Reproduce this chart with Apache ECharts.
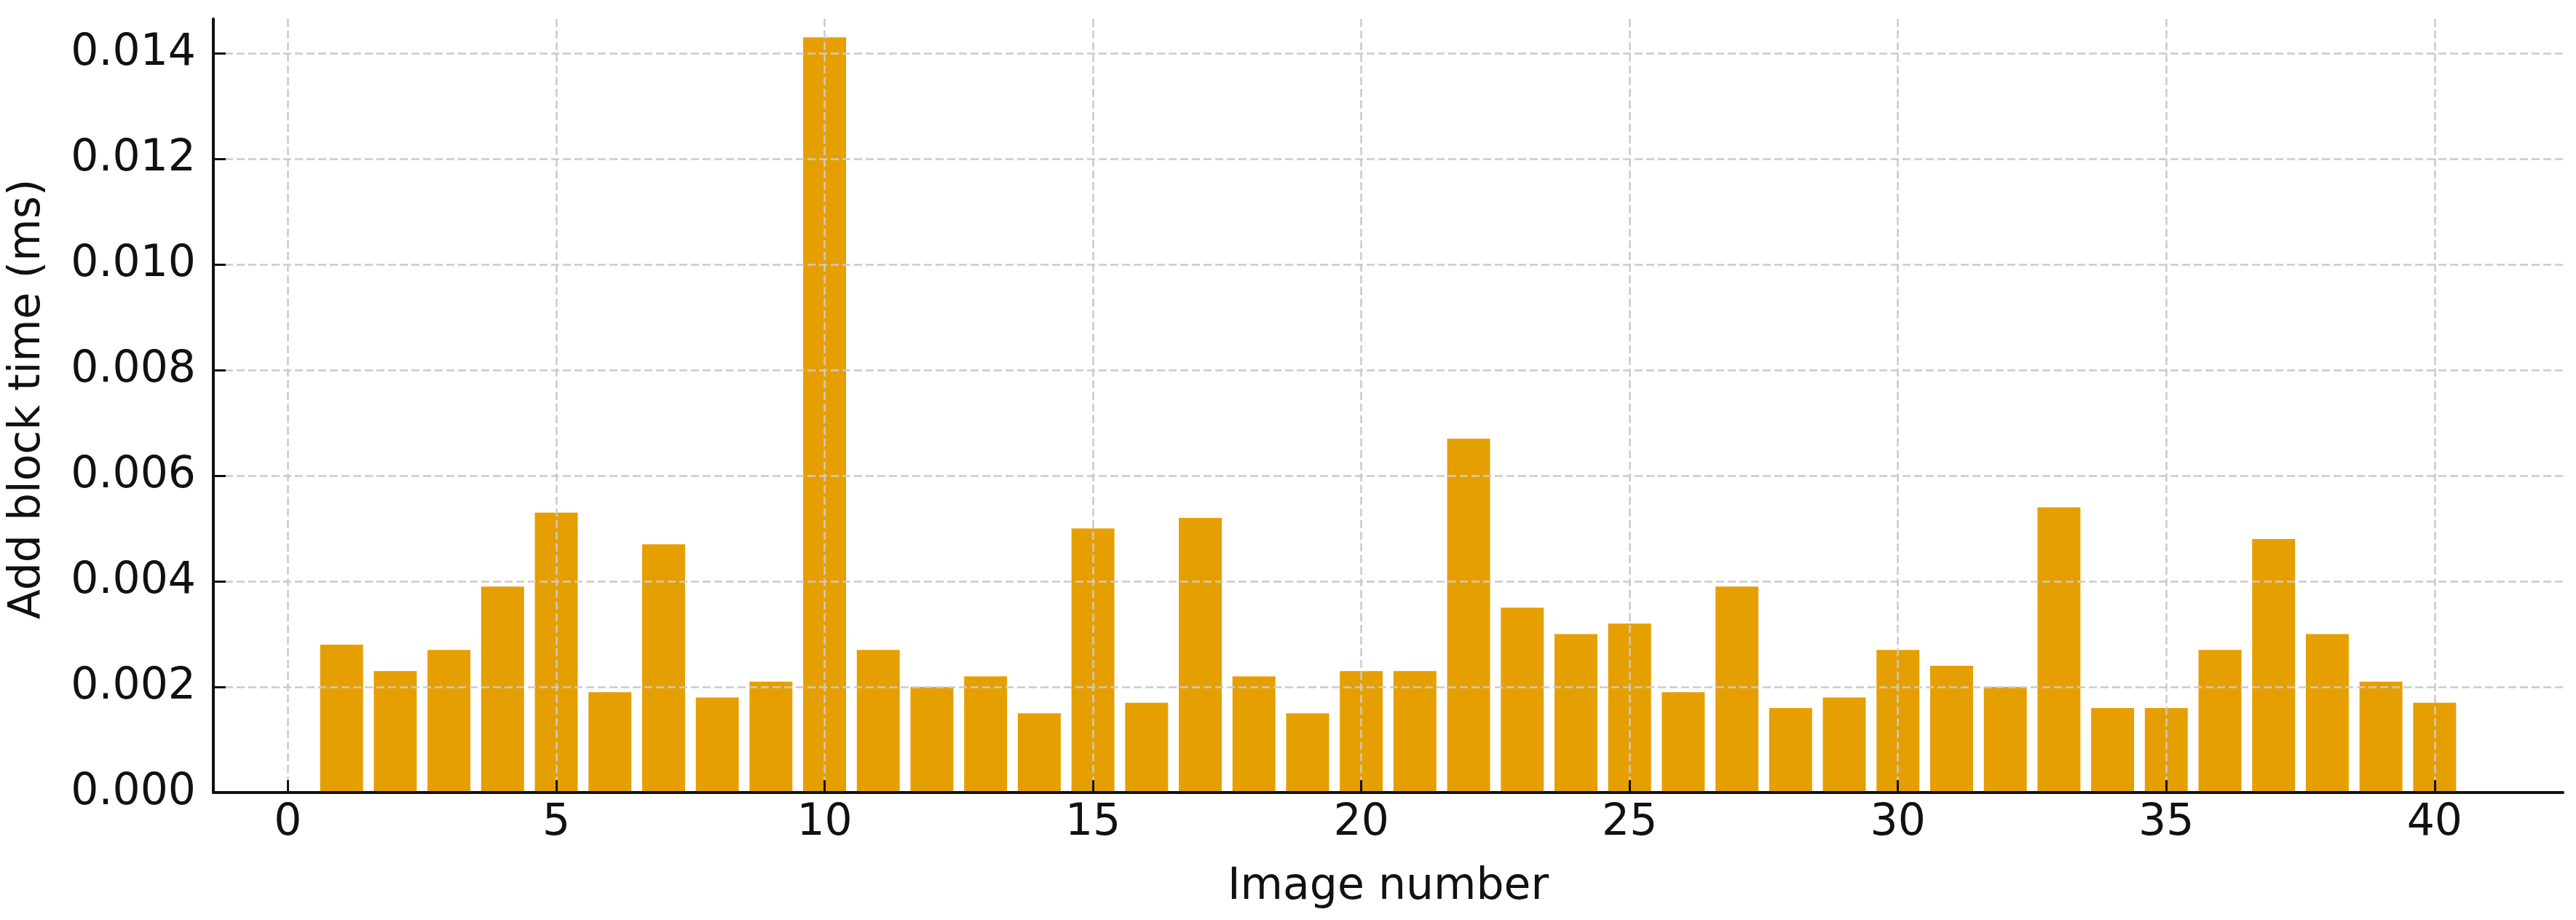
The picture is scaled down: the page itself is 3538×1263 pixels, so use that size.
<!DOCTYPE html>
<html>
<head>
<meta charset="utf-8">
<script src="https://cdn.jsdelivr.net/npm/echarts@6/dist/echarts.min.js"></script>
<style>
  html, body { margin: 0; padding: 0; background: #fff; }
  #chart { width: 3538px; height: 1263px; }
</style>
</head>
<body>
<div id="chart"></div>
<script>
// image numbers and add-block times
const imageNumbers = [1, 2, 3, 4, 5, 6, 7, 8, 9, 10, 11, 12, 13, 14, 15, 16, 17, 18, 19, 20,
  21, 22, 23, 24, 25, 26, 27, 28, 29, 30, 31, 32, 33, 34, 35, 36, 37, 38, 39, 40];
const addBlockTimes = [0.0028, 0.0023, 0.0027, 0.0039, 0.0053, 0.0019, 0.0047, 0.0018, 0.0021, 0.0143,
  0.0027, 0.0020, 0.0022, 0.0015, 0.0050, 0.0017, 0.0052, 0.0022, 0.0015, 0.0023,
  0.0023, 0.0067, 0.0035, 0.0030, 0.0032, 0.0019, 0.0039, 0.0016, 0.0018, 0.0027,
  0.0024, 0.0020, 0.0054, 0.0016, 0.0016, 0.0027, 0.0048, 0.0030, 0.0021, 0.0017];
const xTicks = [0, 5, 10, 15, 20, 25, 30, 35, 40];
const yTicks = [0, 0.002, 0.004, 0.006, 0.008, 0.010, 0.012, 0.014];

const chart = echarts.init(document.getElementById('chart'), null, { renderer: 'canvas' });

const font = 'DejaVu Sans';
// grid is drawn over the bars, like the source plot
const gridLine = { show: true, lineStyle: { color: '#cacaca', width: 2.5, type: [11, 5] } };

const option = {
  backgroundColor: '#fff',
  animation: false,
  grid: { left: 293, right: 18, top: 26, bottom: 175, outerBoundsMode: 'none' },
  xAxis: {
    type: 'value',
    min: -1.39,
    max: 42.39,
    z: 5,
    name: 'Image number',
    nameLocation: 'middle',
    nameGap: 100,
    nameTextStyle: { fontFamily: font, fontSize: 60, color: '#111' },
    axisLine: { show: true, onZero: false, lineStyle: { color: '#111', width: 4 } },
    axisTick: { show: true, inside: true, length: 17, customValues: xTicks, lineStyle: { color: '#111', width: 3 } },
    axisLabel: { customValues: xTicks, fontFamily: font, fontSize: 60, color: '#111', margin: 12 },
    splitLine: gridLine
  },
  yAxis: {
    type: 'value',
    min: 0,
    max: 0.01465,
    z: 5,
    name: 'Add block time (ms)',
    nameLocation: 'middle',
    nameGap: 225,
    nameRotate: 90,
    nameTextStyle: { fontFamily: font, fontSize: 60, color: '#111', padding: [0, 0, 0, 18] },
    axisLine: { show: true, onZero: false, lineStyle: { color: '#111', width: 4 } },
    axisTick: { show: true, inside: true, length: 17, customValues: yTicks, lineStyle: { color: '#111', width: 3 } },
    axisLabel: {
      customValues: yTicks,
      fontFamily: font, fontSize: 60, color: '#111', margin: 24,
      formatter: v => v.toFixed(3)
    },
    splitLine: gridLine
  },
  series: [{
    type: 'bar',
    data: imageNumbers.map((n, i) => [n, addBlockTimes[i]]),
    barWidth: '80%',
    itemStyle: { color: '#E69F00' }
  }]
};

chart.setOption(option);
</script>
</body>
</html>
